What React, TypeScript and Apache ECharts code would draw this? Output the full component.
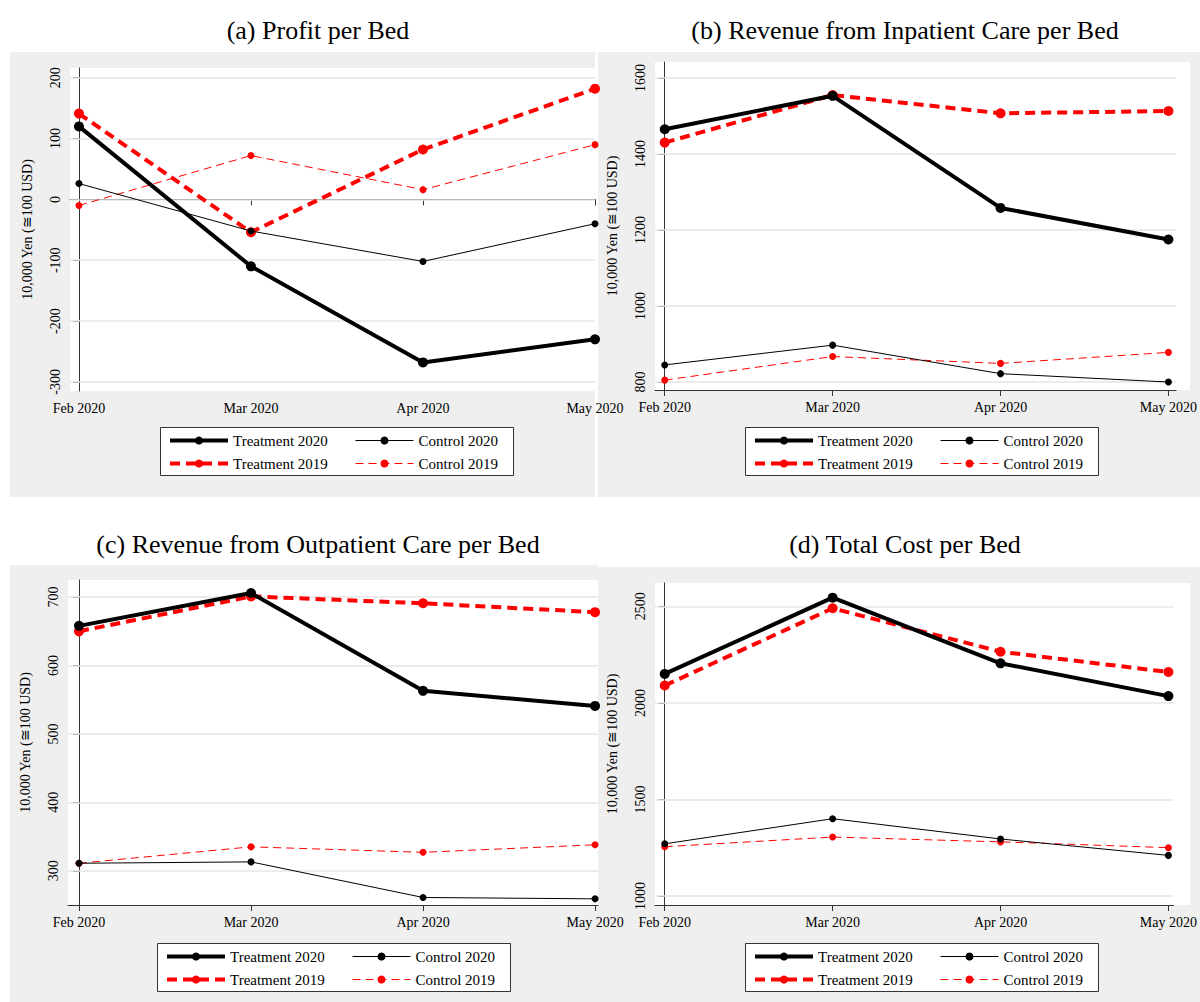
import * as echarts from "echarts";
import { useEffect, useRef } from "react";

const months = ["Feb 2020", "Mar 2020", "Apr 2020", "May 2020"];
const seriesNames = ["Treatment 2020", "Control 2020", "Treatment 2019", "Control 2019"];

// (a) Profit per Bed
const profitT2020 = [120, -110, -268, -230];
const profitC2020 = [26, -52, -102, -40];
const profitT2019 = [141, -54, 82, 182];
const profitC2019 = [-10, 72, 16, 90];
const profitTicks = [-300, -200, -100, 0, 100, 200];

// (b) Revenue from Inpatient Care per Bed
const inpT2020 = [1465, 1553, 1258, 1175];
const inpC2020 = [845, 897, 822, 800];
const inpT2019 = [1430, 1555, 1507, 1513];
const inpC2019 = [805, 867, 849, 878];
const inpTicks = [800, 1000, 1200, 1400, 1600];

// (c) Revenue from Outpatient Care per Bed
const outT2020 = [658, 706, 563, 541];
const outC2020 = [311, 313, 261, 259];
const outT2019 = [650, 701, 691, 678];
const outC2019 = [311, 335, 327, 338];
const outTicks = [300, 400, 500, 600, 700];

// (d) Total Cost per Bed
const costT2020 = [2150, 2545, 2205, 2035];
const costC2020 = [1270, 1400, 1295, 1210];
const costT2019 = [2090, 2490, 2265, 2160];
const costC2019 = [1255, 1305, 1280, 1250];
const costTicks = [1000, 1500, 2000, 2500];

const FONT = "'Liberation Serif', 'Times New Roman', serif";

const panels = [
  {
    title: "(a) Profit per Bed", titleX: 313, titleY: 12,
    bg: [10, 52, 585, 445], grid: [70, 68, 525, 323],
    xMin: -0.052, xMax: 3, yMin: -315, yMax: 216, ticks: profitTicks,
    data: [profitT2020, profitC2020, profitT2019, profitC2019], legend: [160, 427],
  },
  {
    title: "(b) Revenue from Inpatient Care per Bed", titleX: 900, titleY: 12,
    bg: [598, 52, 602, 445], grid: [655, 62, 535, 328],
    xMin: -0.058, xMax: 3.046, yMin: 779, yMax: 1642, ticks: inpTicks,
    data: [inpT2020, inpC2020, inpT2019, inpC2019], legend: [745, 427],
  },
  {
    title: "(c) Revenue from Outpatient Care per Bed", titleX: 313, titleY: 526,
    bg: [10, 565, 588, 437], grid: [68, 580, 530, 325],
    xMin: -0.064, xMax: 3.017, yMin: 250, yMax: 725, ticks: outTicks,
    data: [outT2020, outC2020, outT2019, outC2019], legend: [157, 943],
  },
  {
    title: "(d) Total Cost per Bed", titleX: 900, titleY: 526,
    bg: [598, 567, 602, 435], grid: [655, 583, 535, 322],
    xMin: -0.058, xMax: 3.03, yMin: 953, yMax: 2621, ticks: costTicks,
    data: [costT2020, costC2020, costT2019, costC2019], legend: [745, 943],
  },
];

const styles = [
  { color: "#000", width: 4, type: "solid" as any, size: 10 },
  { color: "#000", width: 1, type: "solid" as any, size: 7 },
  { color: "#ff0000", width: 4, type: [10, 6] as any, size: 10 },
  { color: "#ff0000", width: 1, type: [8, 5] as any, size: 7 },
];

const App: React.FC = () => {
  const chartRef = useRef<HTMLDivElement>(null);

  useEffect(() => {
    document.body.style.margin = "0";
    const chart = echarts.init(chartRef.current!, null, { renderer: "svg" });

    const series: any[] = [];
    panels.forEach((p, pi) => {
      p.data.forEach((vals, si) => {
        const s = styles[si];
        series.push({
          name: seriesNames[si],
          type: "line",
          xAxisIndex: pi,
          yAxisIndex: pi,
          data: vals.map((v, i) => [i, v]),
          symbol: "circle",
          symbolSize: s.size,
          z: 10 - si,
          itemStyle: { color: s.color },
          lineStyle: { color: s.color, width: s.width, type: s.type },
          markLine:
            si === 0
              ? {
                  silent: true,
                  symbol: "none",
                  label: { show: false },
                  lineStyle: { color: "#e6e6e6", width: 1.5, type: "solid" },
                  data: p.ticks.map((t) => ({ yAxis: t })),
                  z: 1,
                }
              : undefined,
        });
      });
    });

    const legendItem = (si: number) => ({
      name: seriesNames[si],
      itemStyle: { color: styles[si].color },
      lineStyle: { color: styles[si].color, width: styles[si].width, type: styles[si].type },
    });

    const legendBase = {
      orient: "vertical",
      itemWidth: 58,
      itemHeight: 10,
      itemGap: 8,
      padding: 0,
      selectedMode: false,
      textStyle: { fontFamily: FONT, fontSize: 15, color: "#000" },
    };

    const option: any = {
      animation: false,
      textStyle: { fontFamily: FONT },
      title: panels.map((p) => ({
        text: p.title,
        left: p.titleX,
        top: p.titleY,
        textAlign: "center",
        textStyle: { fontFamily: FONT, fontSize: 26, fontWeight: "normal", color: "#000" },
      })),
      graphic: panels.flatMap((p) => [
        {
          type: "rect", z: -10, silent: true,
          shape: { x: p.bg[0], y: p.bg[1], width: p.bg[2], height: p.bg[3] },
          style: { fill: "#efefef" },
        },
        {
          type: "rect", z: -9, silent: true,
          shape: { x: p.grid[0], y: p.grid[1], width: p.grid[2], height: p.grid[3] },
          style: { fill: "#fff" },
        },
        {
          type: "rect", z: -9, silent: true,
          shape: { x: p.legend[0] + 0.5, y: p.legend[1] + 0.5, width: 353, height: 48 },
          style: { fill: "#fff", stroke: "#333", lineWidth: 1 },
        },
      ]),
      legend: panels.flatMap((p) => [
        { ...legendBase, left: p.legend[0] + 8, top: p.legend[1] + 6, data: [legendItem(0), legendItem(2)] },
        { ...legendBase, left: p.legend[0] + 195, top: p.legend[1] + 6, data: [legendItem(1), legendItem(3)] },
      ]),
      grid: panels.map((p) => ({
        left: p.grid[0], top: p.grid[1], width: p.grid[2], height: p.grid[3],
      })),
      xAxis: panels.map((p, pi) => ({
        type: "value",
        gridIndex: pi,
        min: p.xMin,
        max: p.xMax,
        splitLine: { show: false },
        axisLine: { lineStyle: { color: "#333" } },
        axisTick: { customValues: [0, 1, 2, 3], length: 6, lineStyle: { color: "#333" } },
        axisLabel: {
          customValues: [0, 1, 2, 3],
          formatter: (v: number) => months[Math.round(v)],
          fontFamily: FONT, fontSize: 14, color: "#000", margin: 10,
        },
      })),
      yAxis: panels.map((p, pi) => ({
        type: "value",
        gridIndex: pi,
        min: p.yMin,
        max: p.yMax,
        name: "10,000 Yen (≅100 USD)",
        nameLocation: "middle",
        nameGap: 36,
        nameTextStyle: { fontFamily: FONT, fontSize: 14, color: "#000" },
        splitLine: { show: false },
        axisLine: { show: true, lineStyle: { color: "#333" } },
        axisTick: { show: true, customValues: p.ticks, length: 6, lineStyle: { color: "#333" } },
        axisLabel: {
          customValues: p.ticks,
          rotate: 90,
          formatter: (v: number) => String(v),
          fontFamily: FONT, fontSize: 14, color: "#000", margin: 8,
        },
      })),
      series,
    };

    chart.setOption(option);
    return () => chart.dispose();
  }, []);

  return <div ref={chartRef} style={{ width: "1200px", height: "1002px" }} />;
};

export default App;
